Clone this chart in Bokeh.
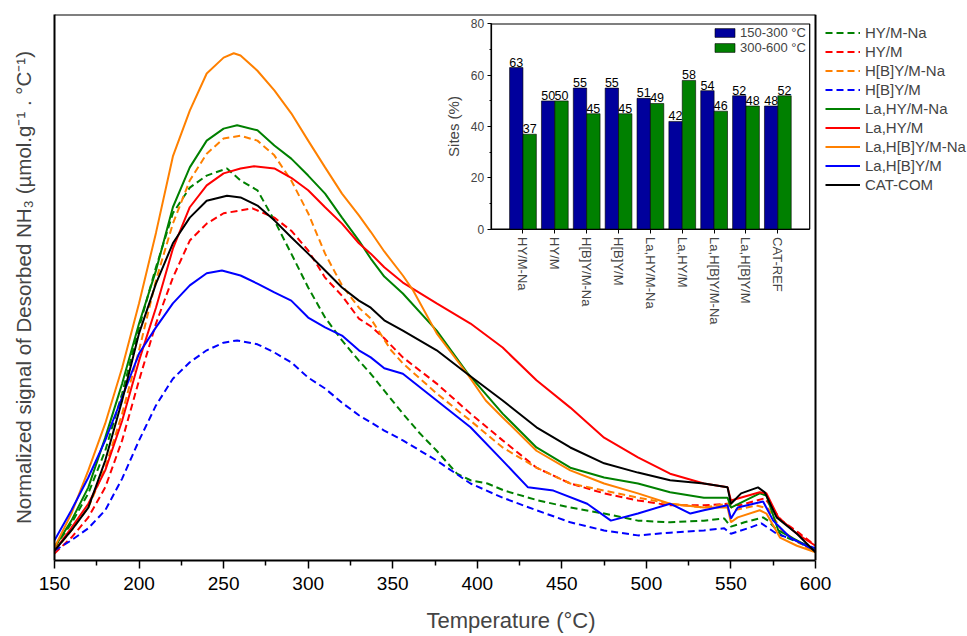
from bokeh.plotting import figure
from bokeh.models import Range1d, LinearAxis, FixedTicker, Legend, LegendItem
from bokeh.core.properties import value
from bokeh.embed import file_html
from bokeh.resources import INLINE

FONT = "Liberation Sans"

# ---------------- main TPD curves (signal in a.u., 0-100 scale) ----------------
T_HYM_NA = [150,160,170,180,190,200,210,220,230,240,252,260,270,280,290,300,310,320,330,337,345,356,366,376,388,396,406,416,436,455,475,495,514,534,546,550,558,569,572,580,590,600]
Y_HYM_NA = [2.4,6.8,12.3,20.1,30.6,42.7,53.7,63.6,68.3,70.5,71.8,69.6,67.8,62.3,56.2,50.0,44.5,40.3,36.6,34.2,31.1,26.9,23.3,20.1,15.9,14.7,14.1,12.8,11.0,9.7,8.6,7.3,7.0,7.3,7.7,6.2,7.0,7.9,7.3,4.6,3.3,1.8]

T_HYM = [150,160,170,180,190,200,210,220,230,240,250,260,267,280,290,300,310,320,330,337,345,356,376,396,415,435,455,475,495,514,534,548,555,570,580,590,600]
Y_HYM = [1.3,4.2,7.9,13.4,22.0,33.0,43.4,51.8,58.6,61.7,63.6,64.1,64.5,62.8,60.4,56.8,51.8,48.5,44.3,42.9,40.7,37.2,32.4,26.9,22.0,17.0,14.1,12.3,11.0,10.1,10.1,10.4,10.1,11.4,7.3,5.1,2.7]

T_HBYM_NA = [150,160,170,180,190,200,210,220,230,240,250,260,270,280,290,300,310,320,330,337,349,356,376,396,415,435,455,475,495,514,534,548,552,565,572,580,590,600]
Y_HBYM_NA = [1.8,5.5,9.7,17.0,26.9,38.5,51.3,61.7,69.6,74.5,77.3,77.8,76.9,74.2,69.6,63.6,56.2,50.4,46.3,44.3,38.5,36.1,30.6,25.6,20.7,17.0,14.1,12.8,11.5,10.4,9.7,10.4,9.2,10.1,9.5,5.5,3.3,1.5]

T_HBYM = [150,160,170,180,190,200,210,220,230,240,250,258,270,280,290,300,310,320,330,337,345,356,376,396,415,435,455,475,495,514,534,546,550,561,568,577,588,600]
Y_HBYM = [1.8,3.7,5.9,9.2,15.0,22.0,28.4,33.3,36.3,38.5,39.9,40.3,39.6,38.1,36.3,33.5,31.5,28.9,26.6,25.3,23.8,22.0,18.3,14.1,11.5,9.2,7.0,5.5,4.6,5.1,5.5,5.9,4.9,6.0,6.8,4.9,3.7,2.2]

T_LA_HYM_NA = [150,160,170,180,190,200,210,220,230,240,250,258,270,280,290,300,310,320,330,337,345,356,376,394,415,435,455,475,495,514,534,548,550,567,571,578,589,600]
Y_LA_HYM_NA = [2.4,7.3,13.4,22.5,32.4,43.4,53.1,64.7,72.0,76.9,79.1,79.7,78.8,76.0,73.6,70.5,67.2,62.8,58.6,55.3,52.0,48.9,42.1,34.4,26.9,20.7,17.0,15.2,14.1,12.5,11.5,11.5,9.7,12.3,11.9,5.5,3.7,1.8]

T_LA_HYM = [150,160,170,180,190,200,210,220,230,240,250,260,268,280,290,300,310,320,330,337,345,356,376,396,415,435,455,475,495,514,534,548,550,567,571,578,589,600]
Y_LA_HYM = [1.8,6.0,10.4,16.5,25.6,36.6,46.3,57.1,64.7,68.7,70.9,71.8,72.2,71.8,70.1,67.8,64.7,61.7,58.1,56.2,53.7,50.9,47.1,43.4,39.0,33.0,28.0,22.5,18.9,15.9,14.1,13.4,11.0,12.5,12.3,7.9,4.9,2.7]

T_LA_HBYM_NA = [150,160,170,180,190,200,210,220,230,240,250,256,260,270,280,290,300,310,320,330,337,345,356,362,376,394,405,415,435,455,475,495,514,534,548,550,554,567,571,579,589,600]
Y_LA_HBYM_NA = [2.4,8.6,16.5,25.1,35.3,47.1,60.0,74.0,82.4,89.2,92.1,92.9,92.5,89.7,86.1,81.9,76.9,72.0,67.2,63.2,60.2,56.6,52.2,49.5,41.6,34.2,29.3,26.2,20.1,16.5,14.1,12.3,10.4,9.7,9.7,7.0,7.9,9.2,8.6,4.2,2.7,1.5]

T_LA_HBYM = [150,160,170,180,190,200,210,220,230,240,249,260,270,280,290,300,310,320,330,337,345,356,376,396,415,430,445,465,479,495,514,526,534,548,550,554,569,575,585,600]
Y_LA_HBYM = [3.7,9.2,15.2,22.0,29.9,37.9,42.7,47.1,50.4,52.6,53.1,52.2,50.7,49.1,47.6,44.5,42.7,41.2,38.5,37.2,35.2,34.2,29.3,24.4,18.3,13.4,12.8,10.4,7.3,8.6,10.4,8.6,9.2,10.1,7.7,9.7,10.8,7.3,4.2,1.8]

T_CAT_COM = [150,160,170,180,190,200,210,220,230,240,252,260,270,280,290,300,310,320,330,337,345,356,376,394,415,435,455,475,495,514,534,548,550,556,566,570,577,589,600]
Y_CAT_COM = [1.8,5.5,9.7,18.3,29.3,41.6,50.7,58.1,62.8,65.9,66.8,66.5,65.0,62.3,59.2,56.2,53.1,50.0,47.6,46.3,44.0,42.1,38.5,34.2,29.3,24.4,20.7,17.8,16.1,14.7,14.1,13.4,10.4,12.3,13.4,12.5,7.9,4.9,1.5]

X_TICKS = [150, 200, 250, 300, 350, 400, 450, 500, 550, 600]
X_MINOR = [175, 225, 275, 325, 375, 425, 475, 525, 575]
X_MIN, X_MAX = 150, 600
Y_MIN, Y_MAX = 0, 100

# ---------------- inset bar data ----------------
CATEGORIES = ["HY/M-Na", "HY/M", "H[B]Y/M-Na", "H[B]Y/M", "La,HY/M-Na",
              "La,HY/M", "La,H[B]Y/M-Na", "La,H[B]Y/M", "CAT-REF"]
SITES_LOW = [63, 50, 55, 55, 51, 42, 54, 52, 48]     # 150-300 °C
SITES_HIGH = [37, 50, 45, 45, 49, 58, 46, 48, 52]    # 300-600 °C
INSET_Y_TICKS = [0, 20, 40, 60, 80]
INSET_Y_MINOR = [10, 30, 50, 70]

# layout constants: the frame extends to the right edge so the legend is not clipped
X_VIEW_MAX = 689.88           # x value at the right edge of the canvas
IX_RANGE = (-13.704, 14.953)  # inset category axis, same frame
IY_RANGE = (-129.25, 83.70)   # inset percent axis, same frame
INSET_BOX = (0, 10, 0, 80)
BAR_W = 0.42

p = figure(width=967, height=636, x_range=Range1d(X_MIN, X_VIEW_MAX), y_range=Range1d(Y_MIN, Y_MAX),
           output_backend="svg", toolbar_location=None,
           min_border_left=54, min_border_right=0, min_border_top=14, min_border_bottom=76)
p.xgrid.visible = False
p.ygrid.visible = False
p.outline_line_color = None
p.background_fill_color = "white"

xa = p.xaxis[0]
xa.bounds = (X_MIN, X_MAX)
xa.ticker = FixedTicker(ticks=X_TICKS, minor_ticks=X_MINOR)
xa.major_tick_out = 8
xa.major_tick_in = 0
xa.minor_tick_out = 5
xa.minor_tick_in = 0
xa.major_tick_line_width = 1.5
xa.minor_tick_line_width = 1.5
xa.axis_line_width = 2
xa.major_label_text_font = FONT
xa.major_label_text_font_size = "19px"
xa.major_label_text_color = "black"
xa.major_label_standoff = 8
xa.axis_label = "Temperature (°C)"
xa.axis_label_text_font = FONT
xa.axis_label_text_font_size = "22px"
xa.axis_label_text_font_style = "normal"
xa.axis_label_standoff = 15

ya = p.yaxis[0]
ya.ticker = FixedTicker(ticks=[])
ya.major_tick_out = 0
ya.minor_tick_out = 0
ya.axis_line_width = 2
ya.axis_label = "Normalized signal of Desorbed NH\u2083 (\u00b5mol.g\u207b\u00b9 . \u00b0C\u207b\u00b9)"
ya.axis_label_text_font = FONT
ya.axis_label_text_font_size = "20.5px"
ya.axis_label_text_font_style = "normal"
ya.axis_label_standoff = 20

# top and right borders of the main frame
top_border = LinearAxis(fixed_location=Y_MAX, bounds=(X_MIN, X_MAX), ticker=FixedTicker(ticks=[]),
                        major_tick_out=0, minor_tick_out=0, axis_line_width=2)
p.add_layout(top_border, "above")
right_border = LinearAxis(fixed_location=X_MAX, ticker=FixedTicker(ticks=[]),
                          major_tick_out=0, minor_tick_out=0, axis_line_width=2)
p.add_layout(right_border, "right")

series = [
    ("HY/M-Na", T_HYM_NA, Y_HYM_NA, "#008000", "dashed"),
    ("HY/M", T_HYM, Y_HYM, "#FF0000", "dashed"),
    ("H[B]Y/M-Na", T_HBYM_NA, Y_HBYM_NA, "#FF8000", "dashed"),
    ("H[B]Y/M", T_HBYM, Y_HBYM, "#0000FF", "dashed"),
    ("La,HY/M-Na", T_LA_HYM_NA, Y_LA_HYM_NA, "#008000", "solid"),
    ("La,HY/M", T_LA_HYM, Y_LA_HYM, "#FF0000", "solid"),
    ("La,H[B]Y/M-Na", T_LA_HBYM_NA, Y_LA_HBYM_NA, "#FF8000", "solid"),
    ("La,H[B]Y/M", T_LA_HBYM, Y_LA_HBYM, "#0000FF", "solid"),
    ("CAT-COM", T_CAT_COM, Y_CAT_COM, "#000000", "solid"),
]
items = []
for name, xs, ys, col, style in series:
    r = p.line(xs, ys, line_color=col, line_width=2,
               line_dash=("7 4" if style == "dashed" else "solid"))
    items.append(LegendItem(label=name, renderers=[r]))

leg = Legend(items=items, location=(771, 367), glyph_width=35, glyph_height=17,
             label_height=17, spacing=2, padding=0, margin=0, label_standoff=5,
             label_text_font=FONT, label_text_font_size="15px",
             border_line_color=None, background_fill_alpha=0)
p.add_layout(leg)

# ---------------- inset ----------------
p.extra_x_ranges = {"ix": Range1d(*IX_RANGE)}
p.extra_y_ranges = {"iy": Range1d(*IY_RANGE)}

p.quad(left=[INSET_BOX[0]], right=[INSET_BOX[1]], bottom=[INSET_BOX[2]], top=[INSET_BOX[3]],
       x_range_name="ix", y_range_name="iy", fill_color="white", line_color="black", line_width=1.2)

pos = list(range(1, len(CATEGORIES) + 1))
xl = [i - BAR_W / 2 for i in pos]
xh = [i + BAR_W / 2 for i in pos]
rb = p.vbar(x=xl, top=SITES_LOW, bottom=0, width=BAR_W, x_range_name="ix", y_range_name="iy",
            fill_color="#00009C", line_color="black", line_width=0.6)
rg = p.vbar(x=xh, top=SITES_HIGH, bottom=0, width=BAR_W, x_range_name="ix", y_range_name="iy",
            fill_color="#008000", line_color="black", line_width=0.6)
p.text(x=xl, y=SITES_LOW, text=[str(v) for v in SITES_LOW], x_range_name="ix", y_range_name="iy",
       text_align="center", text_baseline="bottom", text_font=value(FONT), text_font_size="12.5px",
       text_color="black", y_offset=-1)
p.text(x=xh, y=SITES_HIGH, text=[str(v) for v in SITES_HIGH], x_range_name="ix", y_range_name="iy",
       text_align="center", text_baseline="bottom", text_font=value(FONT), text_font_size="12.5px",
       text_color="black", y_offset=-1)

iy_axis = LinearAxis(x_range_name="ix", y_range_name="iy", fixed_location=0, bounds=(0, 80),
                     ticker=FixedTicker(ticks=INSET_Y_TICKS, minor_ticks=INSET_Y_MINOR))
iy_axis.axis_label = "Sites (%)"
iy_axis.axis_label_text_font = FONT
iy_axis.axis_label_text_font_size = "15px"
iy_axis.axis_label_text_font_style = "normal"
iy_axis.axis_label_standoff = 6
iy_axis.major_label_text_font = FONT
iy_axis.major_label_text_font_size = "12px"
iy_axis.major_label_standoff = 3
iy_axis.major_tick_out = 4
iy_axis.major_tick_in = 0
iy_axis.minor_tick_out = 2
iy_axis.minor_tick_in = 0
iy_axis.axis_line_width = 1.2
p.add_layout(iy_axis, "left")

ix_axis = LinearAxis(x_range_name="ix", y_range_name="iy", fixed_location=0, bounds=(0, 10),
                     ticker=FixedTicker(ticks=pos, minor_ticks=[]))
ix_axis.major_label_overrides = {i: c for i, c in zip(pos, CATEGORIES)}
ix_axis.major_label_orientation = "vertical"
ix_axis.major_label_text_font = FONT
ix_axis.major_label_text_font_size = "13px"
ix_axis.major_label_standoff = 4
ix_axis.major_tick_out = 4
ix_axis.major_tick_in = 0
ix_axis.axis_line_width = 1.2
p.add_layout(ix_axis, "below")

leg2 = Legend(items=[LegendItem(label="150-300 °C", renderers=[rb]),
                     LegendItem(label="300-600 °C", renderers=[rg])],
              location=(658, 505), glyph_width=25, glyph_height=11, label_height=14,
              spacing=0, padding=0, margin=0, label_standoff=3,
              label_text_font=FONT, label_text_font_size="13px",
              border_line_color=None, background_fill_alpha=0)
p.add_layout(leg2)

open("out.html", "w").write(file_html(p, INLINE))
